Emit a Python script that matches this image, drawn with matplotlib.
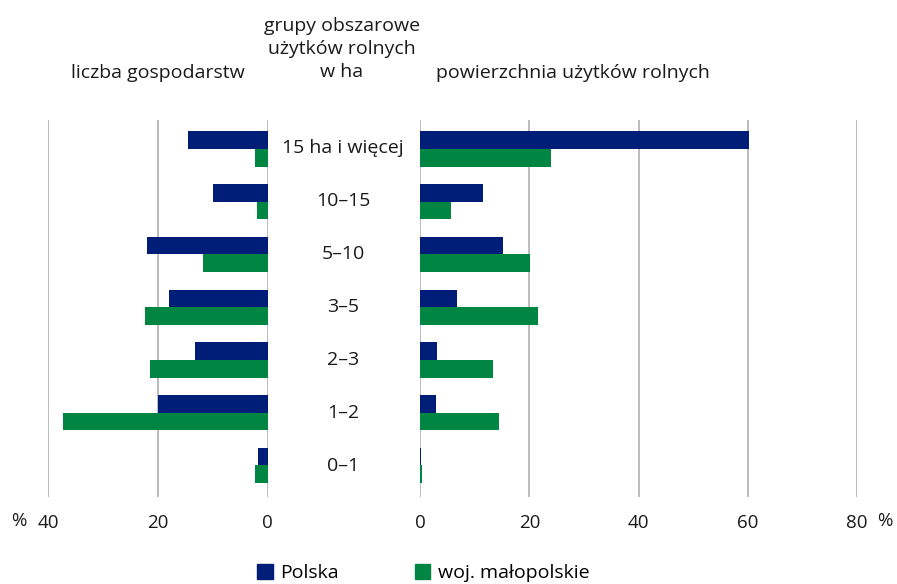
import numpy as np
import matplotlib
matplotlib.use('Agg')
from matplotlib import pyplot as plt
from matplotlib.patches import Patch

plt.rcParams['font.family'] = ['Open Sans', 'DejaVu Sans']

groups = ['15 ha i więcej', '10–15', '5–10', '3–5', '2–3', '1–2', '0–1']
farms_pl = [14.6, 10.0, 22.0, 18.0, 13.3, 20.0, 1.7]
farms_mp = [2.3, 1.9, 11.8, 22.4, 21.5, 37.3, 2.4]
area_pl = [60.3, 11.5, 15.1, 6.7, 3.0, 2.8, 0.2]
area_mp = [23.9, 5.7, 20.1, 21.6, 13.3, 14.4, 0.4]

navy = '#001E78'
green = '#008542'
grid = '#b5b5b5'
txt = '#1a1a1a'

fig = plt.figure(figsize=(8.97, 5.84), dpi=100)
W, H = 897, 584
top, bottom = 120, 497
axL = fig.add_axes([48 / W, 1 - bottom / H, (267.7 - 48) / W, (bottom - top) / H])
axR = fig.add_axes([420.3 / W, 1 - bottom / H, (857 - 420.3) / W, (bottom - top) / H])

y = np.arange(len(groups))
h = 0.335
for ax, pl, mp in [(axL, farms_pl, farms_mp), (axR, area_pl, area_mp)]:
    ax.barh(y - h / 2, pl, height=h, color=navy, zorder=3)
    ax.barh(y + h / 2, mp, height=h, color=green, zorder=3)
    ax.set_ylim(6.6, -0.55)
    ax.set_yticks([])
    for s in ax.spines.values():
        s.set_visible(False)
    ax.tick_params(axis='x', length=0, labelsize=13.5, pad=12, labelcolor=txt)
    ax.grid(axis='x', color=grid, linewidth=1.3, zorder=0)

axL.set_xlim(40, 0)
axL.set_xticks([40, 20, 0])
axR.set_xlim(0, 80)
axR.set_xticks([0, 20, 40, 60, 80])

fig.text(19 / W, 1 - 521 / H, '%', fontsize=13.5, ha='center', va='center', color=txt)
fig.text(885 / W, 1 - 521 / H, '%', fontsize=13.5, ha='center', va='center', color=txt)

for i, g in enumerate(groups):
    fig.text(343 / W, 1 - (148.3 + i * 52.9) / H, g, fontsize=14, ha='center', va='center',
             color=txt)

fig.text(158 / W, 1 - 73 / H, 'liczba gospodarstw', fontsize=14, ha='center', va='center',
         color=txt)
fig.text(342 / W, 1 - 49 / H, 'grupy obszarowe\nużytków rolnych\nw ha', fontsize=14,
         ha='center', va='center', color=txt, linespacing=1.38)
fig.text(573 / W, 1 - 73 / H, 'powierzchnia użytków rolnych', fontsize=14, ha='center',
         va='center', color=txt)

handles = [Patch(color=navy, label='Polska'), Patch(color=green, label='woj. małopolskie')]
fig.legend(handles=handles, loc='center left', bbox_to_anchor=(257 / W, 1 - 573 / H), ncol=2,
           frameon=False, fontsize=14, handlelength=0.8, handleheight=0.8, borderpad=0,
           borderaxespad=0, handletextpad=0.4, columnspacing=3.9)

fig.savefig('out.png', dpi=100)
